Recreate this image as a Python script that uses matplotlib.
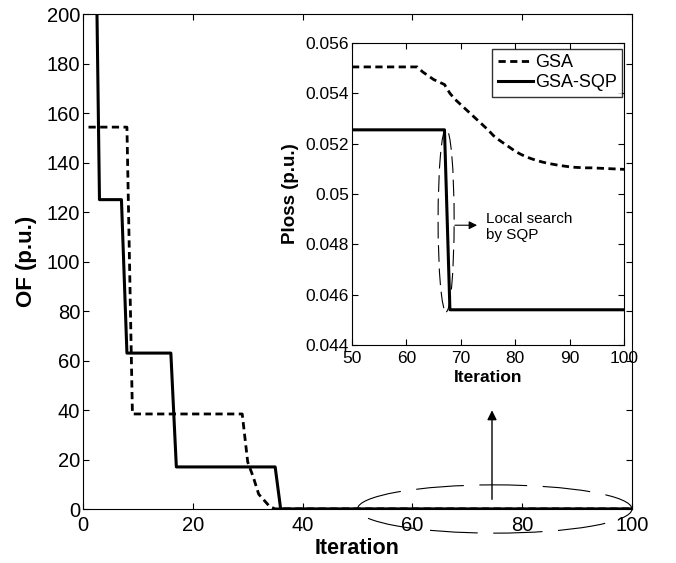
import numpy as np
import matplotlib
matplotlib.use("Agg")
import matplotlib.pyplot as plt
from matplotlib.patches import Ellipse
from matplotlib.ticker import FuncFormatter

plt.rcParams["font.family"] = ["Liberation Sans", "DejaVu Sans"]

# iterations 1..49 (main plot only)
gsa_early = [154.3] * 8 + [38.4] * 21 + [19.0, 13.0, 6.0, 3.5, 1.0] + [0.0552] * 15
sqp_early = [290.0] * 2 + [125.0] * 5 + [63.0] * 9 + [17.0] * 19 + [0.0526] * 14

# iterations 50..100 (shown in the zoomed inset)
gsa_late = [0.05505] * 13 + [
    0.05485, 0.05470, 0.05455, 0.05445, 0.05435, 0.05400, 0.05375, 0.05355,
    0.05335, 0.05315, 0.05295, 0.05275, 0.05255, 0.05232, 0.05215, 0.05200,
    0.05185, 0.05170, 0.05158, 0.05148, 0.05140, 0.05133, 0.05127, 0.05122,
    0.05118, 0.05114, 0.05111, 0.05108, 0.05106, 0.05105, 0.05104, 0.05104,
    0.05103, 0.05102, 0.05101, 0.05100, 0.05099, 0.05098]
sqp_late = [0.05255] * 18 + [0.04540] * 33

iters = np.arange(1, 101)
gsa = np.array(gsa_early + gsa_late)
sqp = np.array(sqp_early + sqp_late)
iters_late = np.arange(50, 101)

dash = (0, (2.6, 1.6))

fig = plt.figure(figsize=(6.76, 5.63), dpi=100)
ax = fig.add_axes([0.1228, 0.0959, 0.8121, 0.8792])
ax.plot(iters, gsa, color="black", lw=2.0, linestyle=dash)
ax.plot(iters, sqp, color="black", lw=2.2)
ax.set_xlim(0, 100)
ax.set_ylim(0, 200)
ax.set_xticks(np.arange(0, 101, 20))
ax.set_yticks(np.arange(0, 201, 20))
ax.tick_params(direction="in", top=True, right=True, labelsize=14.5, length=4)
ax.tick_params(axis="x", pad=5)
ax.tick_params(axis="y", pad=2)
ax.set_xlabel("Iteration", fontsize=15.5, fontweight="bold", labelpad=2)
ax.set_ylabel("OF (p.u.)", fontsize=16, fontweight="bold", labelpad=7)

# dashed ellipse around the tail and arrow to the inset
ax.add_patch(Ellipse((75, 0), 50, 19.5, fill=False, lw=0.8, color="black",
                     linestyle=(0, (43, 14)), clip_on=False, zorder=5))
ax.annotate("", xy=(74.5, 41), xytext=(74.5, 2.8),
            arrowprops=dict(arrowstyle="-|>", color="black", lw=1.0,
                            mutation_scale=14))

# inset
ins = fig.add_axes([0.5207, 0.3872, 0.4024, 0.5364])
ins.plot(iters_late, gsa_late, color="black", lw=2.0, linestyle=dash, label="GSA")
ins.plot(iters_late, sqp_late, color="black", lw=2.2, label="GSA-SQP")
ins.set_xlim(50, 100)
ins.set_ylim(0.044, 0.056)
ins.set_xticks(np.arange(50, 101, 10))
ins.set_yticks(np.arange(0.044, 0.0561, 0.002))
ins.yaxis.set_major_formatter(FuncFormatter(lambda v, p: "%g" % round(v, 3)))
ins.tick_params(direction="in", top=True, right=True, labelsize=12.5, length=4)
ins.tick_params(axis="x", pad=4)
ins.tick_params(axis="y", pad=2)
ins.set_xlabel("Iteration", fontsize=12.5, fontweight="bold", labelpad=3)
ins.set_ylabel("Ploss (p.u.)", fontsize=13.5, fontweight="bold", labelpad=5)

leg = ins.legend(loc="upper right", bbox_to_anchor=(0.9926, 0.98), fontsize=13,
                 frameon=True, fancybox=False, handlelength=1.95,
                 handletextpad=0.1, borderaxespad=0.0, borderpad=0.3,
                 labelspacing=0.15)
leg.get_frame().set_edgecolor("black")
leg.get_frame().set_linewidth(1.0)

ins.add_patch(Ellipse((67.3, 0.04896), 2.95, 0.00728, fill=False, lw=0.8,
                      color="black", linestyle=(0, (15, 6)), zorder=5))
ins.annotate("", xy=(73.5, 0.04876), xytext=(68.4, 0.04876),
             arrowprops=dict(arrowstyle="-|>", color="black", lw=0.8,
                             mutation_scale=12))
ins.text(74.6, 0.0487, "Local search\nby SQP", fontsize=11, va="center", ha="left")

fig.savefig("out.png", dpi=100)
